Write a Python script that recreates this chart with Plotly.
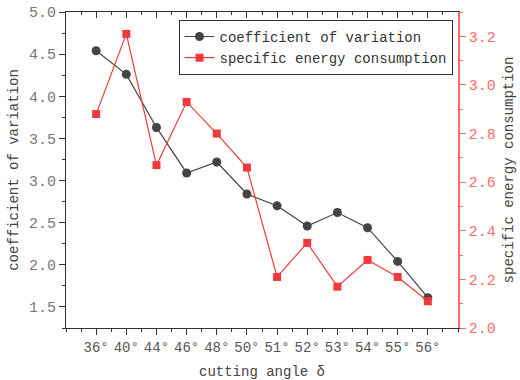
import plotly.graph_objects as go

angles = ["36°", "40°", "44°", "46°", "48°", "50°", "51°", "52°", "53°", "54°", "55°", "56°"]
cv = [4.54, 4.26, 3.63, 3.09, 3.22, 2.84, 2.70, 2.46, 2.62, 2.44, 2.04, 1.61]
sec = [2.88, 3.21, 2.67, 2.93, 2.80, 2.66, 2.21, 2.35, 2.17, 2.28, 2.21, 2.11]

xpos = list(range(len(angles)))
FONT = "Liberation Mono"
RED = "#f0393c"
REDAX = "#ff6b6b"

fig = go.Figure()
fig.add_trace(go.Scatter(x=xpos, y=cv, mode="lines+markers", name="coefficient of variation",
                         line=dict(color="#444444", width=1.2),
                         marker=dict(symbol="circle", size=9, color="#444444"), yaxis="y"))
fig.add_trace(go.Scatter(x=xpos, y=sec, mode="lines+markers", name="specific energy consumption",
                         line=dict(color=RED, width=1.2),
                         marker=dict(symbol="square", size=8, color=RED), yaxis="y2"))
# invisible trace for top mirror axis
fig.add_trace(go.Scatter(x=[xpos[0]], y=[cv[0]], xaxis="x2", mode="markers",
                         marker=dict(opacity=0), showlegend=False, hoverinfo="skip"))

fig.update_layout(
    width=520, height=380,
    margin=dict(l=66, r=62, t=12, b=52, autoexpand=False),
    paper_bgcolor="white", plot_bgcolor="white",
    font=dict(family=FONT, size=14, color="#444444"),
    showlegend=True,
    legend=dict(x=0.287, y=0.975, xanchor="left", yanchor="top",
                bordercolor="#333333", borderwidth=1, bgcolor="white",
                font=dict(family=FONT, size=14, color="#333333"),
                tracegroupgap=0, itemwidth=30),
    xaxis=dict(range=[-1, 12], tickmode="array", tickvals=xpos, ticktext=angles, automargin=False,
               showgrid=False, zeroline=False, showline=True, linecolor="#333333", linewidth=1.2,
               ticks="outside", ticklen=6, tickcolor="#333333", ticklabelstandoff=0,
               minor=dict(dtick=0.5, tick0=0, ticks="outside", ticklen=3, tickcolor="#333333"),
               tickfont=dict(family=FONT, size=14, color="#555555"),
               title=dict(text="cutting angle δ", font=dict(family=FONT, size=14, color="#444444"), standoff=17)),
    xaxis2=dict(range=[-1, 12], overlaying="x", side="top", tickmode="array", tickvals=xpos,
                showticklabels=False, showgrid=False, zeroline=False, showline=True, automargin=False,
                linecolor="#333333", linewidth=1.2, ticks="inside", ticklen=6, tickcolor="#333333",
                minor=dict(dtick=0.5, tick0=0, ticks="inside", ticklen=3, tickcolor="#333333")),
    yaxis=dict(range=[1.25, 5.0], dtick=0.5, tick0=0, tickformat=".1f", automargin=False,
               showgrid=False, zeroline=False, showline=True, linecolor="#333333", linewidth=1.2,
               ticks="outside", ticklen=6, tickcolor="#333333",
               minor=dict(dtick=0.25, tick0=0, ticks="outside", ticklen=3, tickcolor="#333333"),
               tickfont=dict(family=FONT, size=15, color="#777777"),
               title=dict(text="coefficient of variation", font=dict(family=FONT, size=14, color="#444444"), standoff=6)),
    yaxis2=dict(range=[2.0, 3.3], dtick=0.2, tick0=0, tickformat=".1f", overlaying="y", side="right",
                automargin=False,
                showgrid=False, zeroline=False, showline=True, linecolor=REDAX, linewidth=1.5,
                ticks="outside", ticklen=6, tickcolor=REDAX,
                minor=dict(dtick=0.1, tick0=0, ticks="outside", ticklen=3, tickcolor=REDAX),
                tickfont=dict(family=FONT, size=15, color=REDAX),
                title=dict(text="specific energy consumption", font=dict(family=FONT, size=14, color="#444444"), standoff=8)),
)

fig.write_html("out.html")
